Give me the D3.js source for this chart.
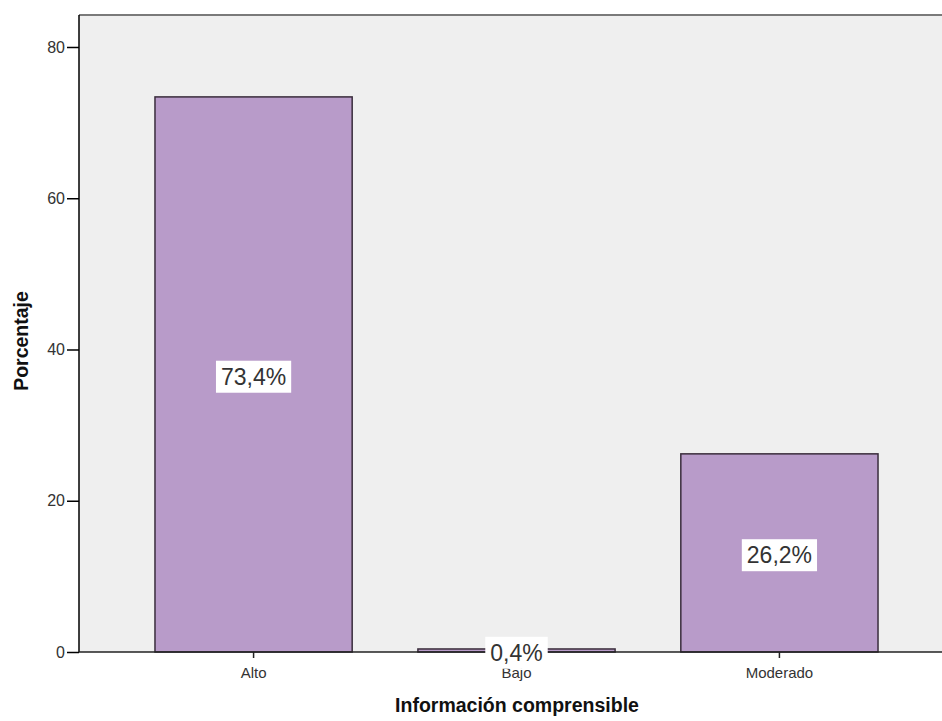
<!DOCTYPE html>
<html><head><meta charset="utf-8">
<script src="https://cdn.jsdelivr.net/npm/d3@7"></script>
<style>body{margin:0;background:#fff;} text{font-family:Arial,"Liberation Sans",sans-serif;}</style>
</head><body>
<svg id="c" width="942" height="721"></svg>
<script>
const categories = ["Alto", "Bajo", "Moderado"];
const values = [73.4, 0.4, 26.2];
const valueLabels = ["73,4%", "0,4%", "26,2%"];
const yTicks = [0, 20, 40, 60, 80];

const svg = d3.select("#c");
const L = 79, R = 954, T = 15, B = 652;
const x = d3.scaleBand().domain(categories).range([L, R]).paddingInner(0.25).paddingOuter(0.289);
const y = d3.scaleLinear().domain([0, 84.23]).range([B, T]);

svg.append("rect").attr("x", L).attr("y", T).attr("width", R - L).attr("height", B - T).attr("fill", "#efefef");
svg.append("line").attr("x1", L).attr("x2", R).attr("y1", T).attr("y2", T).attr("stroke", "#7a7a7a").attr("stroke-width", 2);

svg.selectAll("rect.bar").data(values).join("rect").attr("class", "bar")
  .attr("x", (d, i) => x(categories[i])).attr("width", x.bandwidth())
  .attr("y", d => y(d)).attr("height", d => B - y(d))
  .attr("fill", "#b89bc9").attr("stroke", "#3a2d3c").attr("stroke-width", 1.5);

// axes
const ya = svg.append("g").attr("transform", `translate(${L},0)`)
  .call(d3.axisLeft(y).tickValues(yTicks).tickSize(12).tickPadding(2));
ya.select(".domain").attr("stroke", "#000").attr("stroke-width", 1.5).attr("d", `M0,${T}V${B}`);
ya.selectAll(".tick line").attr("stroke", "#000").attr("stroke-width", 1.5);
ya.selectAll(".tick text").attr("font-size", 16).attr("fill", "#333");

const xa = svg.append("g").attr("transform", `translate(0,${B})`)
  .call(d3.axisBottom(x).tickSize(6).tickPadding(9));
xa.select(".domain").attr("stroke", "#222").attr("stroke-width", 1.5).attr("d", `M${L},0H${R}`);
xa.selectAll(".tick line").attr("stroke", "#222").attr("stroke-width", 1.5);
xa.selectAll(".tick text").attr("font-size", 15).attr("fill", "#333");

// value labels
const lab = svg.selectAll("g.vl").data(values).join("g").attr("class", "vl")
  .attr("transform", (d, i) => `translate(${x(categories[i]) + x.bandwidth() / 2},${(y(d) + B) / 2 + 2})`);
lab.append("text").attr("text-anchor", "middle").attr("dy", "0.36em")
  .attr("font-size", 23).attr("fill", "#333").text((d, i) => valueLabels[i]);
lab.each(function() {
  const g = d3.select(this);
  const bb = g.select("text").node().getBBox();
  g.insert("rect", "text").attr("x", bb.x - 5).attr("y", bb.y - 3).attr("width", bb.width + 10).attr("height", bb.height + 6).attr("fill", "#fff");
});

svg.append("text").attr("x", 517).attr("y", 712).attr("text-anchor", "middle")
  .attr("font-family", "'DejaVu Sans', Verdana, sans-serif")
  .attr("font-size", 19.5).attr("font-weight", "bold").attr("fill", "#111").text("Información comprensible");
svg.append("text").attr("transform", "translate(28,341) rotate(-90)").attr("text-anchor", "middle")
  .attr("font-family", "'DejaVu Sans', Verdana, sans-serif")
  .attr("font-size", 19.5).attr("font-weight", "bold").attr("fill", "#111").text("Porcentaje");
</script>
</body></html>
